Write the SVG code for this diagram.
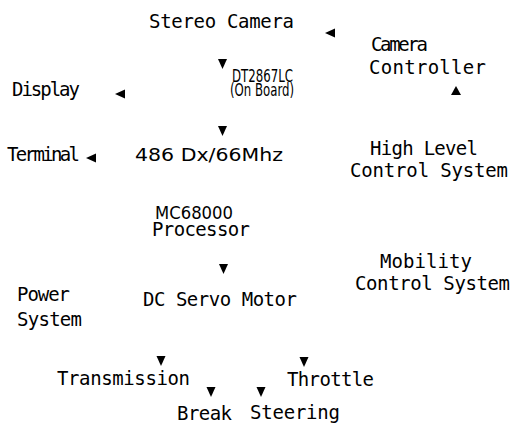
<svg xmlns="http://www.w3.org/2000/svg" xmlns:xlink="http://www.w3.org/1999/xlink" width="513" height="424" viewBox="0 0 513 424">
<style>
text{font-family:"DejaVu Sans Mono","Liberation Mono",monospace;font-size:19px;fill:#000}
.nar{font-family:"DejaVu Sans","Liberation Sans",sans-serif;font-size:18px}
.sm{font-family:"DejaVu Sans Condensed","Liberation Sans",sans-serif;font-size:17.5px}
.ah{fill:#000}
</style>
<defs>
<polygon id="dn" points="-4.5,0 4.5,0 0,10"/>
<polygon id="lf" points="0,0 10,-4.5 10,4.5"/>
<polygon id="up" points="0,0 5,9 -5,9"/>
</defs>
<rect width="513" height="424" fill="#fff"/>
<g id="connectors" class="ah">
<use xlink:href="#lf" x="325" y="33"/>
<use xlink:href="#up" x="456" y="86"/>
<use xlink:href="#dn" x="222.5" y="59"/>
<use xlink:href="#lf" x="115" y="94"/>
<use xlink:href="#dn" x="222.5" y="126"/>
<use xlink:href="#lf" x="86" y="158"/>
<use xlink:href="#dn" x="223.5" y="264"/>
<use xlink:href="#dn" x="161" y="356"/>
<use xlink:href="#dn" x="304" y="357"/>
<use xlink:href="#dn" x="211" y="387"/>
<use xlink:href="#dn" x="261" y="387"/>
</g>
<g id="stereo-camera"><text x="149" y="28" textLength="145">Stereo Camera</text></g>
<g id="camera-controller"><text x="371" y="51" textLength="57">Camera</text><text x="369" y="74" textLength="117">Controller</text></g>
<g id="dt2867lc"><text class="sm" x="232" y="82" textLength="61" lengthAdjust="spacingAndGlyphs">DT2867LC</text><text class="sm" x="230" y="96" textLength="64" lengthAdjust="spacingAndGlyphs">(On Board)</text></g>
<g id="display"><text x="12" y="96" textLength="68">Display</text></g>
<g id="terminal"><text x="7" y="161" textLength="73">Terminal</text></g>
<g id="cpu486"><text class="nar" x="135" y="161" textLength="148" lengthAdjust="spacingAndGlyphs">486 Dx/66Mhz</text></g>
<g id="high-level"><text x="370" y="155" textLength="108">High Level</text><text x="350" y="177" textLength="158">Control System</text></g>
<g id="mc68000"><text class="nar" x="155" y="219" textLength="78" lengthAdjust="spacingAndGlyphs">MC68000</text><text x="152" y="236" textLength="98">Processor</text></g>
<g id="mobility"><text x="380" y="268" textLength="92">Mobility</text><text x="355" y="290" textLength="155">Control System</text></g>
<g id="power"><text x="17" y="301" textLength="53">Power</text><text x="17" y="326" textLength="65">System</text></g>
<g id="dc-servo"><text x="143" y="306" textLength="154">DC Servo Motor</text></g>
<g id="transmission"><text x="57" y="385" textLength="133">Transmission</text></g>
<g id="throttle"><text x="287" y="386" textLength="87">Throttle</text></g>
<g id="break"><text x="177" y="420" textLength="55">Break</text></g>
<g id="steering"><text x="250" y="419" textLength="90">Steering</text></g>
</svg>
